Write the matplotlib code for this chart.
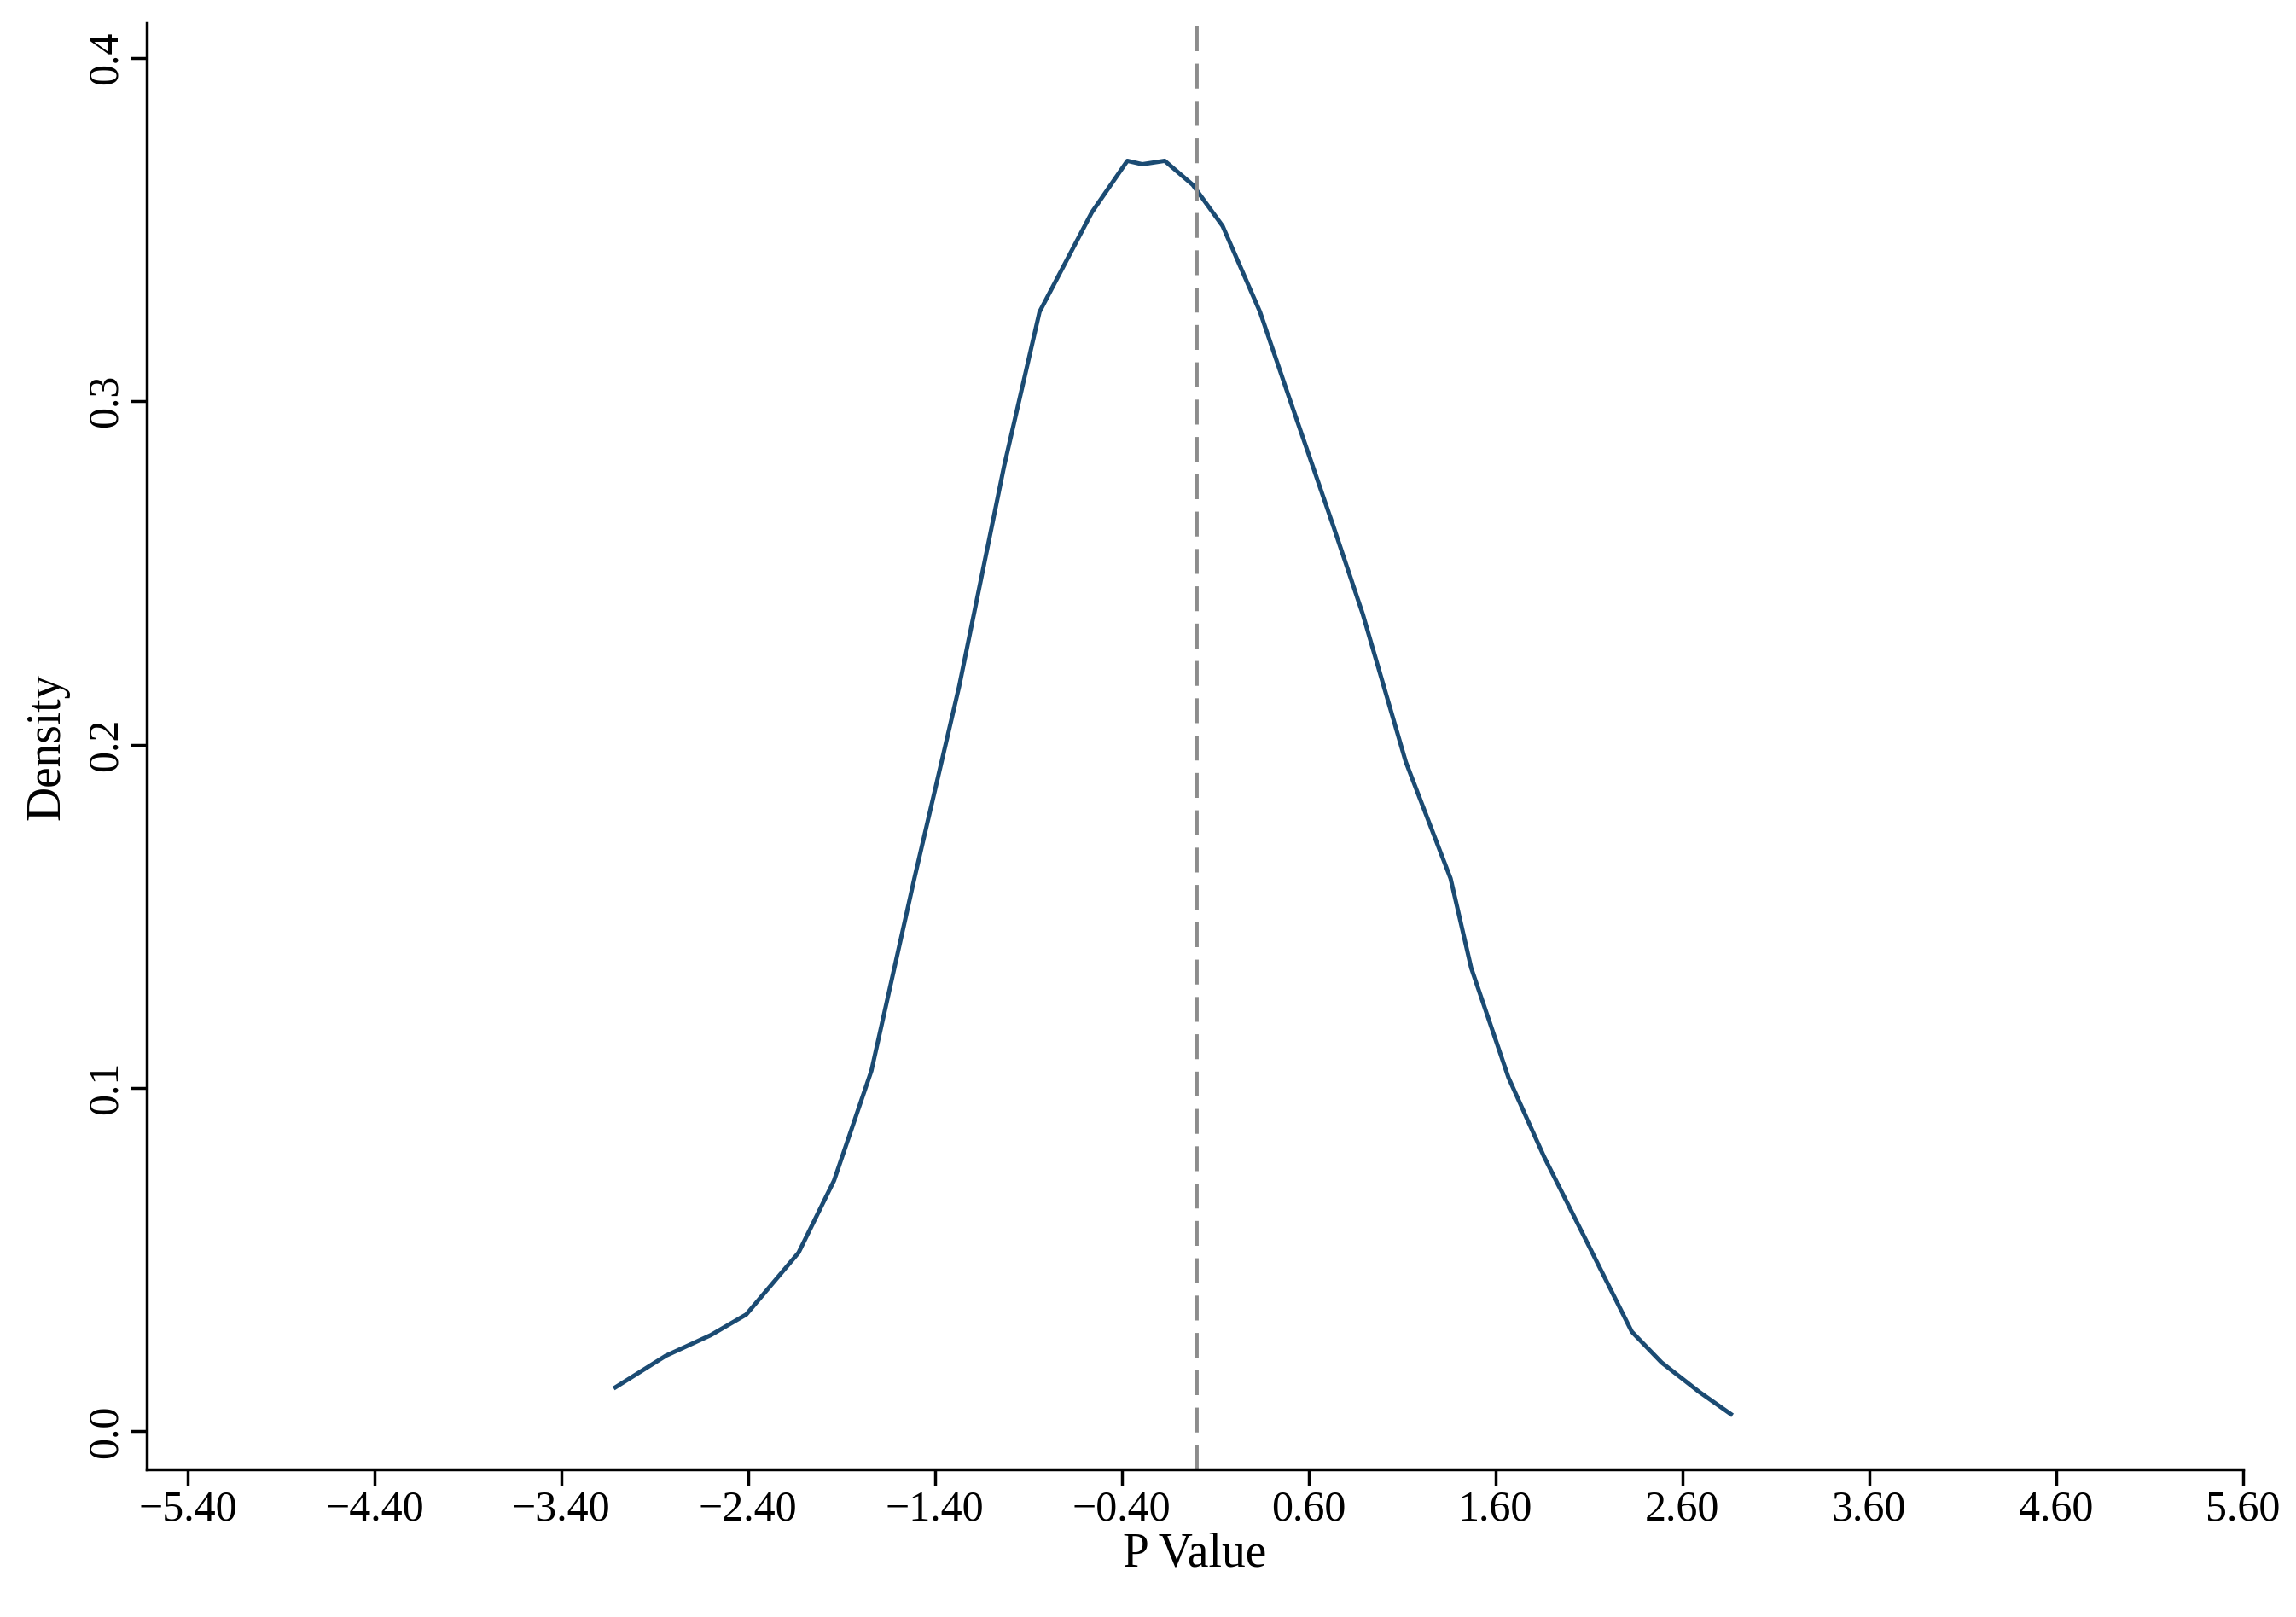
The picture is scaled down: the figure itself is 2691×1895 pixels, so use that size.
import matplotlib
matplotlib.use("Agg")
import matplotlib.pyplot as plt
import numpy as np

p_value = [-3.11,-2.84,-2.60,-2.41,-2.13,-1.94,-1.74,-1.51,-1.27,-1.03,-0.84,-0.56,-0.37,-0.29,-0.17,-0.02,
           0.14,0.34,0.49,0.73,0.89,1.12,1.36,1.47,1.67,1.86,2.10,2.33,2.49,2.69,2.86]
density = [0.0128,0.022,0.028,0.034,0.052,0.073,0.105,0.161,0.217,0.281,0.326,0.355,0.370,0.369,0.370,0.363,
           0.351,0.326,0.302,0.264,0.238,0.195,0.161,0.135,0.103,0.080,0.054,0.029,0.020,0.0115,0.005]
xticks = [-5.4,-4.4,-3.4,-2.4,-1.4,-0.4,0.6,1.6,2.6,3.6,4.6,5.6]
yticks = [0.0,0.1,0.2,0.3,0.4]

plt.rcParams['font.family'] = ['Liberation Serif', 'DejaVu Serif']
fig = plt.figure(figsize=(26.91,18.95), dpi=100)
ax = fig.add_axes([0.0638,0.0915,0.913,0.894])
ax.plot(p_value, density, color='#1b4b73', lw=3.6)
ax.axvline(0.0, color='#8c8c8c', lw=3.5, ls=(0,(6,3)))
ax.set_xlim(-5.62,5.6)
ax.set_ylim(-0.011,0.41)
ax.set_xticks(xticks)
ax.set_xticklabels([f"{t:.2f}".replace('-', '\u2212') for t in xticks], fontsize=36)
ax.set_yticks(yticks)
ax.set_yticklabels([f"{t:.1f}" for t in yticks], fontsize=36, rotation=90, va='center')
for s in ['top','right']:
    ax.spines[s].set_visible(False)
for s in ['left','bottom']:
    ax.spines[s].set_linewidth(2.5)
ax.tick_params(length=14, width=2.5)
ax.set_xlabel("P Value", fontsize=40, labelpad=2)
ax.set_ylabel("Density", fontsize=40, labelpad=14)
fig.savefig("out.png", dpi=100)
